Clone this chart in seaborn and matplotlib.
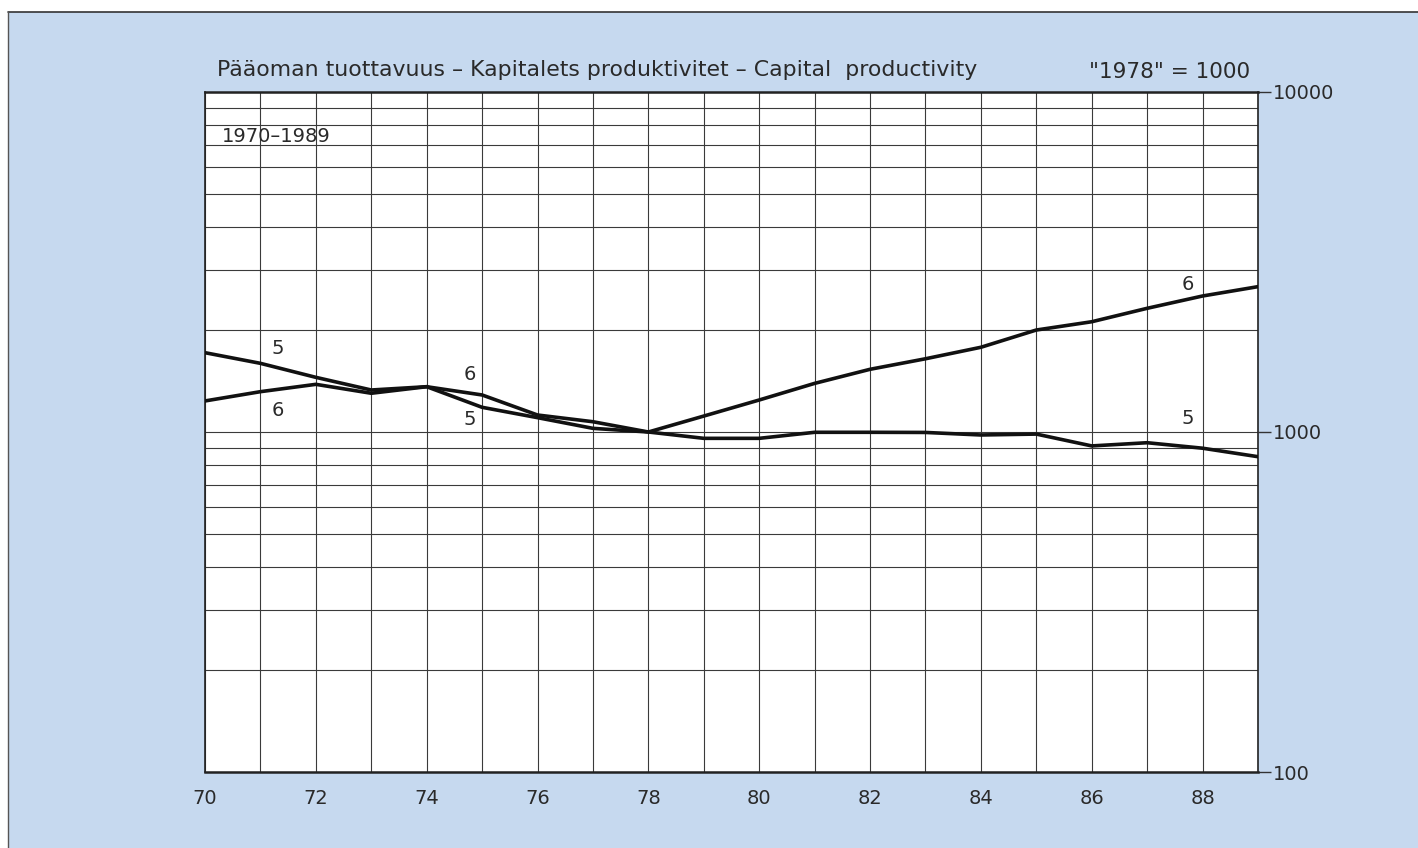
import matplotlib
matplotlib.use("Agg")
import matplotlib.pyplot as plt
import matplotlib.patches as mpatches
from matplotlib.ticker import FixedLocator, NullFormatter, LogLocator
import numpy as np
import pandas as pd
import seaborn as sns

years = list(range(70, 90))
series5 = [1711, 1592, 1448, 1329, 1359, 1182, 1102, 1025, 1000, 958,
           958, 998, 998, 997, 980, 986, 910, 930, 896, 846]
series6 = [1234, 1314, 1381, 1300, 1359, 1285, 1122, 1072, 1000, 1114,
           1242, 1390, 1529, 1642, 1775, 1995, 2110, 2311, 2512, 2676]
series_names = ["5", "6"]
x_ticks = [70, 72, 74, 76, 78, 80, 82, 84, 86, 88]
y_ticks = [100, 1000, 10000]

title = "Pääoman tuottavuus – Kapitalets produktivitet – Capital  productivity"
base_note = '"1978" = 1000'
period = "1970–1989"

df = pd.DataFrame({
    "year": years * 2,
    "value": series5 + series6,
    "series": [series_names[0]] * len(years) + [series_names[1]] * len(years),
})

sns.set_theme(style="white")
plt.rcParams["font.family"] = ["DejaVu Sans"]

BLUE = "#c6d9ef"
TXT = "#2a2a2a"
fig = plt.figure(figsize=(14.18, 8.48), dpi=100, facecolor="white")
# blue board with border on top and left
board = mpatches.Rectangle((8 / 1418, 0), 1 - 8 / 1418, 1 - 12 / 848,
                           transform=fig.transFigure, facecolor=BLUE,
                           edgecolor="none", zorder=-10)
fig.add_artist(board)
fig.add_artist(plt.Line2D([8 / 1418, 1], [1 - 12 / 848] * 2, transform=fig.transFigure,
                          color="#333333", lw=1.2, zorder=-5))
fig.add_artist(plt.Line2D([8 / 1418] * 2, [0, 1 - 12 / 848], transform=fig.transFigure,
                          color="#555555", lw=1.0, zorder=-5))

ax = fig.add_axes([205 / 1418, 1 - 772 / 848, (1258 - 205) / 1418, (772 - 92) / 848])
ax.set_zorder(1)
ax.set_facecolor("white")

sns.lineplot(data=df, x="year", y="value", hue="series", palette=["#111111", "#111111"],
             linewidth=2.6, legend=False, ax=ax, zorder=5)

ax.set_yscale("log")
ax.set_xlim(70, 89)
ax.set_ylim(100, 10000)

ax.xaxis.set_major_locator(FixedLocator(x_ticks))
ax.xaxis.set_minor_locator(FixedLocator(years))
ax.yaxis.set_major_locator(FixedLocator(y_ticks))
ax.yaxis.set_minor_locator(LogLocator(base=10, subs=np.arange(2, 10)))
ax.yaxis.set_minor_formatter(NullFormatter())
ax.set_yticklabels([str(v) for v in y_ticks])
ax.set_xticklabels([str(v) for v in x_ticks])

ax.yaxis.tick_right()
ax.tick_params(axis="y", which="major", direction="out", length=9, width=1.0,
               color="#333333", labelsize=14, labelcolor=TXT, pad=2, right=True, left=False)
ax.tick_params(axis="y", which="minor", length=0)
ax.tick_params(axis="x", which="both", length=0, labelsize=14, labelcolor=TXT, pad=12)

ax.grid(True, which="both", axis="both", color="#3a3a3a", linewidth=0.8)
ax.set_axisbelow(True)
for side in ["top", "bottom", "left", "right"]:
    ax.spines[side].set_visible(True)
    ax.spines[side].set_color("#222222")
ax.spines["top"].set_linewidth(1.8)
ax.spines["bottom"].set_linewidth(1.8)
ax.spines["left"].set_linewidth(1.2)
ax.spines["right"].set_linewidth(1.2)
ax.set_xlabel("")
ax.set_ylabel("")

# series labels
lab_kw = dict(fontsize=14, color=TXT, ha="center", va="center", zorder=6)
ax.text(71.32, 1766, series_names[0], **lab_kw)
ax.text(71.32, 1160, series_names[1], **lab_kw)
ax.text(74.77, 1481, series_names[1], **lab_kw)
ax.text(74.77, 1092, series_names[0], **lab_kw)
ax.text(87.74, 2724, series_names[1], **lab_kw)
ax.text(87.74, 1099, series_names[0], **lab_kw)

ax.text(70.3, 7400, period, fontsize=14, color=TXT, ha="left", va="center")

fig.text(217 / 1418, 1 - 70 / 848, title, fontsize=15.8, color=TXT, ha="left", va="center")
fig.text(1250 / 1418, 1 - 72 / 848, base_note, fontsize=15.5, color=TXT, ha="right", va="center")

fig.savefig("out.png", dpi=100, facecolor=fig.get_facecolor())
